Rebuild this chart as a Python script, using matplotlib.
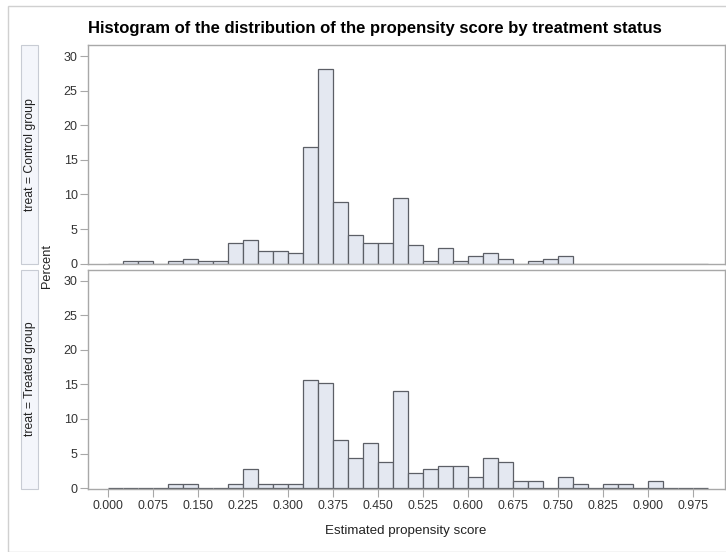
import numpy as np
import matplotlib.pyplot as plt
from matplotlib.patches import Rectangle

plt.rcParams['font.family'] = ['Liberation Sans', 'DejaVu Sans']

# Percent of observations per bin (bins of width 0.025 from 0.000 to 1.000)
bin_width = 0.025
n_bins = 40
control_pct = [0, 0.4, 0.4, 0, 0.4, 0.72, 0.4, 0.4, 3.05, 3.45,
               1.88, 1.88, 1.55, 16.85, 28.1, 8.85, 4.2, 3.05, 3.05, 9.56,
               2.65, 0.4, 2.3, 0.4, 1.15, 1.5, 0.72, 0, 0.4, 0.72,
               1.15, 0, 0, 0, 0, 0, 0, 0, 0, 0]
treated_pct = [0, 0, 0, 0, 0.54, 0.54, 0, 0, 0.54, 2.70,
               0.54, 0.54, 0.54, 15.68, 15.14, 7.03, 4.32, 6.49, 3.78, 14.05,
               2.16, 2.70, 3.24, 3.24, 1.62, 4.32, 3.78, 1.08, 1.08, 0,
               1.62, 0.54, 0, 0.54, 0.54, 0, 1.08, 0, 0, 0]
panel_labels = ["treat = Control group", "treat = Treated group"]
x_ticks = [0.000, 0.075, 0.150, 0.225, 0.300, 0.375, 0.450, 0.525,
           0.600, 0.675, 0.750, 0.825, 0.900, 0.975]
y_ticks = [0, 5, 10, 15, 20, 25, 30]

W, H = 726, 552
fig = plt.figure(figsize=(W / 100, H / 100), dpi=100)

FRAME = "#A8A8A8"
TXT = "#333333"
BAR_FILL = "#E4E8F1"
BAR_EDGE = "#5C5F66"

# outer light border
fig.patches.append(Rectangle((8 / W, 0), 1, 1 - 6 / H, transform=fig.transFigure,
                             fill=False, edgecolor="#D0D0D0", linewidth=1))

def px_axes(left, top, right, bottom):
    return fig.add_axes([left / W, 1 - bottom / H, (right - left) / W, (bottom - top) / H])

ax_top = px_axes(88, 45, 725, 264)
ax_bot = px_axes(88, 269.5, 725, 488.5)

bin_left = np.arange(n_bins) * bin_width
for ax, vals, lab, (t, b) in [(ax_top, control_pct, panel_labels[0], (45, 264)),
                              (ax_bot, treated_pct, panel_labels[1], (269.5, 488.5))]:
    ax.bar(bin_left, vals, width=bin_width, align="edge", color=BAR_FILL,
           edgecolor=BAR_EDGE, linewidth=0.9)
    ax.set_xlim(-0.033, 1.029)
    ax.set_ylim(-0.05, 31.6)
    ax.set_yticks(y_ticks)
    ax.set_xticks(x_ticks)
    for s in ax.spines.values():
        s.set_color(FRAME)
        s.set_linewidth(1)
    ax.tick_params(axis="y", colors=FRAME, labelcolor=TXT, labelsize=9,
                   length=5.5, width=0.8, pad=2)
    ax.tick_params(axis="x", colors=FRAME, labelcolor=TXT, labelsize=8.9,
                   length=5.5, width=0.8, pad=3)
    # row strip on the left
    strip = Rectangle((21 / W, 1 - b / H), 17 / W, (b - t) / H, transform=fig.transFigure,
                      facecolor="#F4F6FB", edgecolor="#C8CCD4", linewidth=0.8)
    fig.patches.append(strip)
    fig.text(29.5 / W, 1 - (t + b) / 2 / H, lab, rotation=90, ha="center", va="center",
             fontsize=8.8, color="#222222")

ax_top.tick_params(axis="x", bottom=False, labelbottom=False)

fig.text(47 / W, 1 - 266 / H, "Percent", rotation=90, ha="center", va="center",
         fontsize=9.2, color="#222222")
fig.text(406 / W, 1 - 531 / H, "Estimated propensity score", ha="center", va="center",
         fontsize=9.6, color="#222222")
fig.text(375 / W, 1 - 29 / H,
         "Histogram of the distribution of the propensity score by treatment status",
         ha="center", va="center", fontsize=12, fontweight="bold", color="black")

fig.savefig("out.png", dpi=100)
